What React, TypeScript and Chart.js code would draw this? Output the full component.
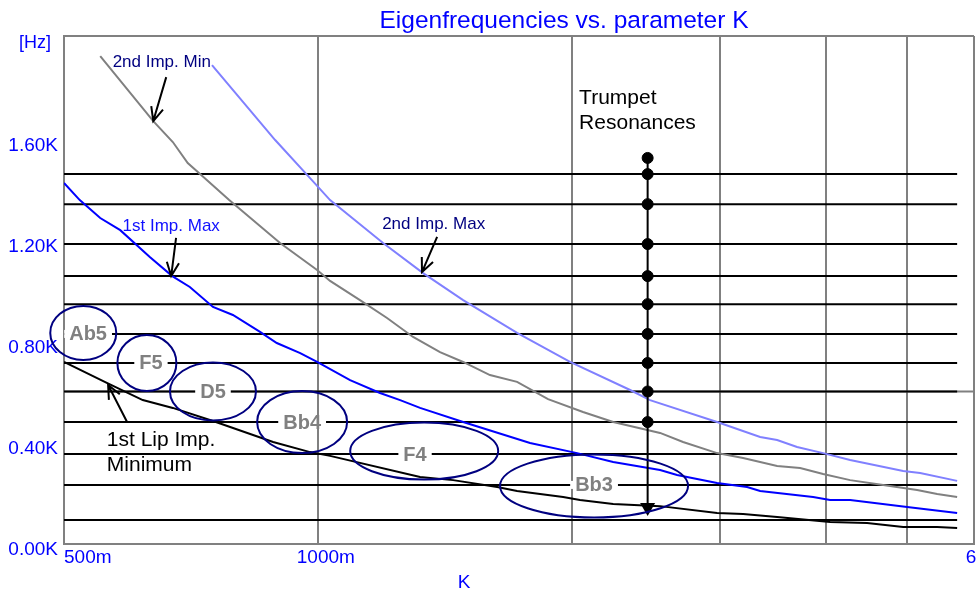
import React, { useEffect, useRef } from "react";
import { Chart, registerables } from "chart.js";

Chart.register(...registerables);

const FONT = "'Liberation Sans', Arial, Helvetica, sans-serif";

// ---- data (K = parameter, Hz = frequency) ----
const lipMinK = [0.5, 0.562, 0.62, 0.673, 0.751, 0.885, 0.979, 1.034, 1.322, 1.447, 1.632, 1.723, 1.954, 2.046, 2.24, 2.546, 2.975, 3.194, 3.505, 4.05, 4.481, 4.945, 5.426, 5.73];
const lipMinHz = [721, 638, 570, 539, 487, 404, 364, 349, 265, 253, 226, 210, 186, 174, 158, 150, 123, 119, 107, 87, 83, 67, 67, 63];

const imp1MaxK = [0.5, 0.522, 0.552, 0.583, 0.632, 0.672, 0.705, 0.751, 0.793, 0.854, 0.894, 0.953, 0.998, 1.092, 1.185, 1.252, 1.322, 1.487, 1.785, 2.03, 2.24, 2.546, 2.667, 2.975, 3.229, 3.346, 3.867, 4.05, 4.278, 4.999, 5.73];
const imp1MaxHz = [1430, 1362, 1291, 1243, 1137, 1061, 1018, 939, 907, 840, 796, 756, 721, 649, 598, 570, 539, 483, 400, 360, 325, 293, 273, 242, 226, 210, 186, 174, 174, 147, 123];

const imp2MinK = [0.552, 0.638, 0.673, 0.701, 0.725, 0.785, 0.902, 0.998, 1.034, 1.122, 1.208, 1.297, 1.396, 1.487, 1.6, 1.723, 1.875, 2.063, 2.24, 2.546, 2.711, 2.975, 3.194, 3.505, 3.732, 3.974, 4.278, 4.682, 5.137, 5.426, 5.73];
const imp2MinHz = [1932, 1675, 1592, 1509, 1465, 1362, 1192, 1085, 1042, 966, 895, 820, 760, 721, 669, 642, 574, 523, 483, 440, 404, 360, 341, 309, 301, 277, 253, 234, 214, 198, 186];

const imp2MaxK = [0.749, 0.89, 0.979, 1.034, 1.195, 1.333, 1.487, 1.723, 1.991, 2.346, 2.477, 2.975, 3.346, 3.505, 3.701, 3.974, 4.278, 4.945, 5.179, 5.73];
const imp2MaxHz = [1897, 1600, 1449, 1362, 1192, 1073, 966, 836, 721, 610, 570, 483, 424, 412, 384, 360, 333, 289, 281, 250];

const resonanceHz = [1465, 1346, 1188, 1061, 950, 832, 717, 604, 483, 356, 234, 95];
const resonanceK = [0.5, 5.73];
const gridRefHz = 604;
const gridRefK = [0.5, 6];

const trumpetK = 2.461;
const trumpetDotHz = [1529, 1465, 1346, 1188, 1061, 950, 832, 717, 604, 483];
const trumpetArrowHz = [483, 145];

const yTicks = [0, 400, 800, 1200, 1600];
const yMax = 2012;
const xTicks = [0.5, 1, 2, 3, 4, 5, 6];
const xTickLabels = ["500m", "1000m", "", "", "", "", "6"];

const noteNames = ["Ab5", "F5", "D5", "Bb4", "F4", "Bb3"];
const noteHz = [832, 717, 604, 483, 356, 234];
const noteLabelK = [0.534, 0.634, 0.751, 0.958, 1.304, 2.126];
const noteEllipseK = [0.527, 0.627, 0.751, 0.958, 1.337, 2.126];
const noteEllipseHz = [836, 717, 604, 483, 368, 230];

const curveLabels = ["2nd Imp. Min", "1st Imp. Max", "2nd Imp. Max"];
const curveLabelK = [0.653, 0.67, 1.372];
const curveLabelHz = [1909, 1259, 1267];

const arrowTailK = [0.661, 0.679, 1.385, 0.594];
const arrowTailHz = [1849, 1212, 1216, 483];
const arrowTipK = [0.638, 0.67, 1.329, 0.564];
const arrowTipHz = [1675, 1061, 1077, 630];

const lipLabelLines = ["1st Lip Imp.", "Minimum"];
const lipLabelK = 0.562;
const lipLabelHz = [412, 313];

const trumpetLabelLines = ["Trumpet", "Resonances"];
const trumpetLabelK = 2.041;
const trumpetLabelHz = [1766, 1667];

// ---- styles ----
const ellipseRadii = [
  [33, 27],
  [29.5, 28],
  [43, 29],
  [45, 31],
  [74, 28.5],
  [94, 31.5],
];
const curveLabelColors = ["#000080", "#1010ff", "#000080"];

const pts = (xs: number[], ys: number[]) => xs.map((k, i) => ({ x: k, y: ys[i] }));

const annotPlugin = {
  id: "annot",
  afterDatasetsDraw(chart: any) {
    const { ctx } = chart;
    const xs = chart.scales.x;
    const ys = chart.scales.y;
    const px = (k: number) => xs.getPixelForValue(k);
    const py = (h: number) => ys.getPixelForValue(h);
    ctx.save();

    // note labels
    noteNames.forEach((n, i) => {
      ctx.font = `bold 20px ${FONT}`;
      const w = ctx.measureText(n).width;
      const cx = px(noteLabelK[i]);
      const cy = py(noteHz[i]);
      ctx.fillStyle = "#ffffff";
      ctx.fillRect(cx - w / 2 - 5, cy - 4, w + 10, 8);
      ctx.fillStyle = "#808080";
      ctx.textAlign = "center";
      ctx.textBaseline = "middle";
      ctx.fillText(n, cx, cy + 1);
    });

    // ellipses
    ctx.strokeStyle = "#000080";
    ctx.lineWidth = 2;
    noteNames.forEach((_, i) => {
      ctx.beginPath();
      ctx.ellipse(px(noteEllipseK[i]), py(noteEllipseHz[i]), ellipseRadii[i][0], ellipseRadii[i][1], 0, 0, Math.PI * 2);
      ctx.stroke();
    });

    // curve labels
    ctx.font = `17px ${FONT}`;
    ctx.textAlign = "center";
    ctx.textBaseline = "middle";
    curveLabels.forEach((t, i) => {
      ctx.fillStyle = curveLabelColors[i];
      ctx.fillText(t, px(curveLabelK[i]), py(curveLabelHz[i]));
    });

    // arrows
    ctx.strokeStyle = "#000000";
    ctx.lineWidth = 2;
    arrowTailK.forEach((_, i) => {
      const x0 = px(arrowTailK[i]);
      const y0 = py(arrowTailHz[i]);
      const x1 = px(arrowTipK[i]);
      const y1 = py(arrowTipHz[i]);
      const ang = Math.atan2(y1 - y0, x1 - x0);
      const L = 15;
      const a = 0.42;
      ctx.beginPath();
      ctx.moveTo(x0, y0);
      ctx.lineTo(x1, y1);
      ctx.moveTo(x1 - L * Math.cos(ang - a), y1 - L * Math.sin(ang - a));
      ctx.lineTo(x1, y1);
      ctx.lineTo(x1 - L * Math.cos(ang + a), y1 - L * Math.sin(ang + a));
      ctx.stroke();
    });

    // black labels
    ctx.fillStyle = "#000000";
    ctx.font = `21px ${FONT}`;
    ctx.textAlign = "left";
    lipLabelLines.forEach((t, i) => ctx.fillText(t, px(lipLabelK), py(lipLabelHz[i])));
    trumpetLabelLines.forEach((t, i) => ctx.fillText(t, px(trumpetLabelK), py(trumpetLabelHz[i])));

    // x tick labels
    ctx.fillStyle = "#0000ff";
    ctx.font = `19px ${FONT}`;
    const base = chart.chartArea.bottom + 14;
    xTicks.forEach((v, i) => {
      const t = xTickLabels[i];
      if (!t) return;
      const p = px(v);
      if (i === 0) {
        ctx.textAlign = "left";
        ctx.fillText(t, p, base);
      } else if (i === xTicks.length - 1) {
        ctx.textAlign = "center";
        ctx.fillText(t, p - 3, base);
      } else {
        ctx.textAlign = "center";
        ctx.fillText(t, p + 8, base);
      }
    });

    // axis titles and chart title
    ctx.textAlign = "center";
    ctx.fillText("K", 464, chart.chartArea.bottom + 39);
    ctx.font = `18px ${FONT}`;
    ctx.fillText("[Hz]", 35, chart.chartArea.top + 7);
    ctx.font = `24.5px ${FONT}`;
    ctx.fillText("Eigenfrequencies vs. parameter K", 564, 21);

    ctx.restore();
  },
};

export default function App() {
  const ref = useRef<HTMLCanvasElement>(null);

  useEffect(() => {
    document.body.style.margin = "0";
    const canvas = ref.current;
    if (!canvas) return;

    const lineDs = (label: string, data: any[], color: string, order: number, width = 2) => ({
      label,
      data,
      borderColor: color,
      backgroundColor: color,
      borderWidth: width,
      pointRadius: 0,
      tension: 0,
      fill: false,
      order,
    });

    const datasets: any[] = [
      lineDs("1st Lip Imp. Minimum", pts(lipMinK, lipMinHz), "#000000", 1),
      lineDs("1st Imp. Max", pts(imp1MaxK, imp1MaxHz), "#0000ff", 1),
      lineDs("2nd Imp. Min", pts(imp2MinK, imp2MinHz), "#808080", 1),
      lineDs("2nd Imp. Max", pts(imp2MaxK, imp2MaxHz), "#8080ff", 1),
      ...resonanceHz.map((h, i) =>
        lineDs("res" + i, resonanceK.map((k) => ({ x: k, y: h })), "#000000", 3)
      ),
      { ...lineDs("grid", gridRefK.map((k) => ({ x: k, y: gridRefHz })), "#808080", 4), clip: 0 },
      {
        label: "Trumpet Resonances",
        data: trumpetDotHz.map((h) => ({ x: trumpetK, y: h })),
        borderColor: "#000000",
        backgroundColor: "#000000",
        borderWidth: 2,
        pointRadius: 5.5,
        pointBorderWidth: 1,
        showLine: true,
        tension: 0,
        order: 0,
      },
      {
        label: "arrow",
        data: trumpetArrowHz.map((h) => ({ x: trumpetK, y: h })),
        borderColor: "#000000",
        backgroundColor: "#000000",
        borderWidth: 2,
        pointRadius: [0, 8.7],
        pointStyle: "triangle",
        pointRotation: 180,
        pointBorderWidth: 0,
        showLine: true,
        tension: 0,
        order: 0,
      },
    ];

    const chart = new Chart(canvas, {
      type: "line",
      data: { datasets },
      options: {
        animation: false,
        responsive: false,
        devicePixelRatio: 1,
        parsing: true,
        layout: { autoPadding: false, padding: { left: 0, top: 36, right: 3, bottom: 0 } },
        plugins: {
          legend: { display: false },
          title: { display: false },
          tooltip: { enabled: false },
        },
        events: [],
        scales: {
          x: {
            type: "logarithmic",
            min: 0.5,
            max: 6,
            afterBuildTicks: (s: any) => {
              s.ticks = xTicks.map((v) => ({ value: v }));
            },
            afterFit: (s: any) => {
              s.height = 55;
            },
            ticks: { display: false },
            grid: { color: "#808080", lineWidth: 2, drawTicks: false },
            border: { color: "#808080", width: 2 },
          },
          y: {
            type: "linear",
            min: 0,
            max: yMax,
            afterBuildTicks: (s: any) => {
              s.ticks = [...yTicks, yMax].map((v) => ({ value: v }));
            },
            afterFit: (s: any) => {
              s.width = 64;
            },
            ticks: {
              callback: (v: any) => (v === yMax ? "" : (Number(v) / 1000).toFixed(2) + "K"),
              color: "#0000ff",
              font: { family: FONT, size: 19 },
              padding: 6,
              labelOffset: 6,
              autoSkip: false,
            },
            grid: {
              color: (c: any) => (c.tick && c.tick.value === yMax ? "#808080" : "rgba(0,0,0,0)"),
              lineWidth: 2,
              drawTicks: false,
            },
            border: { color: "#808080", width: 2 },
          },
        },
      } as any,
      plugins: [annotPlugin],
    });

    return () => chart.destroy();
  }, []);

  return (
    <div style={{ position: "absolute", left: 0, top: 0, width: 977, height: 599, background: "#fff" }}>
      <canvas ref={ref} width={977} height={599} style={{ width: 977, height: 599, display: "block" }} />
    </div>
  );
}
